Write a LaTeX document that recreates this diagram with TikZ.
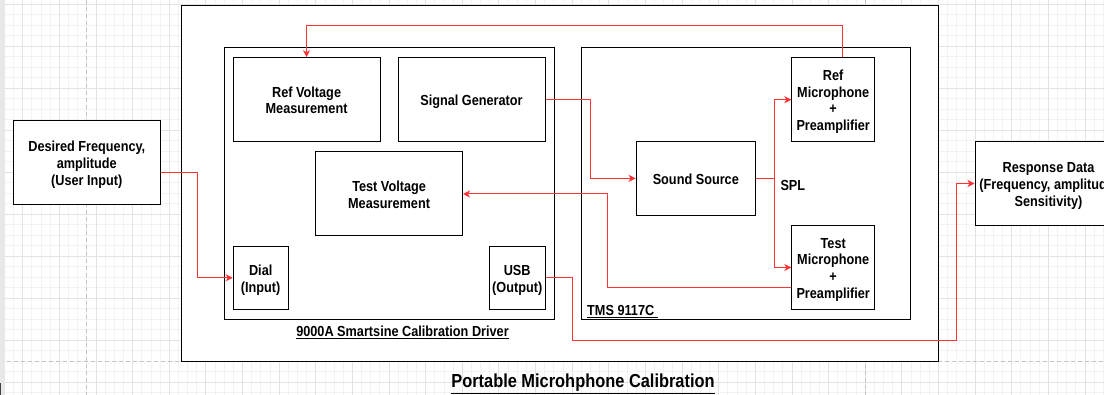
\documentclass[tikz,border=0pt]{standalone}
\usepackage{fontspec}
\setmainfont{Liberation Sans}
\usepackage{graphicx}
\usetikzlibrary{arrows.meta}
\definecolor{redline}{HTML}{FF3333}
\definecolor{gmaj}{HTML}{E3E3E3}
\definecolor{gmin}{HTML}{F3F3F3}
\definecolor{pageline}{HTML}{C4C4C4}
\newcommand{\vt}[1]{\raisebox{-2.5pt}[\height][\depth]{\scalebox{1}[1.147]{\begin{tabular}{@{}c@{}}#1\end{tabular}}}}
\begin{document}
\begin{tikzpicture}[x=1pt,y=-1pt,
  boxnode/.style={draw=black, line width=1pt, fill=white, rectangle, inner sep=0pt,
    font=\fontsize{12.7}{14.6}\selectfont\bfseries},
  frame/.style={draw=black, line width=1pt, fill=white, rectangle, inner sep=0pt},
  conn/.style={draw=redline, line width=1pt, -{Stealth[length=7pt,width=7pt,inset=2pt]}},
  plainconn/.style={draw=redline, line width=1pt},
  lbl/.style={inner sep=0pt, font=\fontsize{12.7}{14.6}\selectfont\bfseries},
  gridmaj/.style={draw=gmaj, line width=0.8pt},
  gridmin/.style={draw=gmin, line width=0.8pt},
  pagedash/.style={draw=pageline, line width=0.8pt, dash pattern=on 4pt off 3pt}]
\useasboundingbox (0,0) rectangle (1104,395);
\fill[white] (0,0) rectangle (1104,395);
% grid
\foreach \i in {-4,...,121} \draw[gridmin] ({22.7+9.1575*\i},0) -- ({22.7+9.1575*\i},395);
\foreach \j in {-1,...,38} \draw[gridmin] (0,{4.3+10.5*\j}) -- (1104,{4.3+10.5*\j});
\foreach \i in {-1,...,30} \draw[gridmaj] ({22.7+36.63*\i},0) -- ({22.7+36.63*\i},395);
\foreach \j in {0,...,9} \draw[gridmaj] (0,{4.3+42*\j}) -- (1104,{4.3+42*\j});
% page break lines
\draw[pagedash] (86.7,0) -- (86.7,395);
\draw[pagedash] (865.5,0) -- (865.5,395);
\draw[pagedash] (0,361.7) -- (1104,361.7);
% left edge strip
\fill[gray!18] (0,0) rectangle (4.5,395);
\fill[black!75] (0,382.7) rectangle (1.2,395);

% containers
\node[frame, minimum width=757.6, minimum height=355.7] (outer) at (559.8,183.2) {};
\node[frame, minimum width=330, minimum height=272.4] (driver) at (389,183.5) {};
\node[frame, minimum width=329.5, minimum height=272.4] (tms) at (746.15,183.5) {};

% blocks
\node[boxnode, minimum width=147.2, minimum height=83.6] (desired) at (86.8,162.5)
  {\vt{Desired Frequency,\\amplitude\\(User Input)}};
\node[boxnode, minimum width=146.8, minimum height=84] (refv) at (306.6,99.7)
  {\vt{Ref Voltage\\Measurement}};
\node[boxnode, minimum width=147, minimum height=84] (siggen) at (471.5,99.7)
  {\vt{Signal Generator}};
\node[boxnode, minimum width=146.8, minimum height=84] (testv) at (389.1,194)
  {\vt{Test Voltage\\Measurement}};
\node[boxnode, minimum width=55, minimum height=63] (dial) at (260.7,277.8)
  {\vt{Dial\\(Input)}};
\node[boxnode, minimum width=55.7, minimum height=63] (usb) at (517.2,277.8)
  {\vt{USB\\(Output)}};
\node[boxnode, minimum width=119.5, minimum height=73.3] (sound) at (695.8,178.4)
  {\vt{Sound Source}};
\node[boxnode, minimum width=82.7, minimum height=84] (refmic) at (833.2,99.7)
  {\vt{Ref\\Microphone\\+\\Preamplifier}};
\node[boxnode, minimum width=82.7, minimum height=83.6] (testmic) at (833.2,267.5)
  {\vt{Test\\Microphone\\+\\Preamplifier}};
\node[boxnode, minimum width=147, minimum height=83.6] (resp) at (1048.5,183.5)
  {\vt{Response Data\\(Frequency, amplitude,\\Sensitivity)}};

% connectors
\draw[conn] ([yshift=-10.2pt]desired.east) -- ++(36.4,0) |- (dial.west);
\draw[conn] ([xshift=9pt]refmic.north) -- ++(0,-31.7) -| (refv.north);
\draw[conn] (siggen.east) -- ++(45.4,0) |- (sound.west);
\draw[plainconn] (sound.east) -- ++(18.3,0) coordinate (split);
\draw[conn] (split) |- (refmic.west);
\draw[conn] (split) |- (testmic.west);
\draw[conn] ([yshift=-20.5pt]testmic.west) -- ++(-183.5,0) |- (testv.east);
\draw[conn] (usb.east) -- ++(27.2,0) -- ++(0,62.5) -| ([xshift=-18.5pt]resp.west) -- (resp.west);

% labels
\node[lbl] (drvlbl) at (402.5,331) {\vt{\underline{9000A Smartsine Calibration Driver}}};
\node[lbl, anchor=west] (tmslbl) at (587,310) {\vt{\underline{TMS 9117C\ }}};
\node[lbl, anchor=west] (spllbl) at (780.3,184.3) {\vt{SPL}};
\node[inner sep=0pt, font=\fontsize{16.4}{18}\selectfont\bfseries] (title) at (583,381)
  {\raisebox{-3pt}[\height][\depth]{\scalebox{1}[1.147]{\underline{Portable Microhphone Calibration}}}};
\end{tikzpicture}
\end{document}
